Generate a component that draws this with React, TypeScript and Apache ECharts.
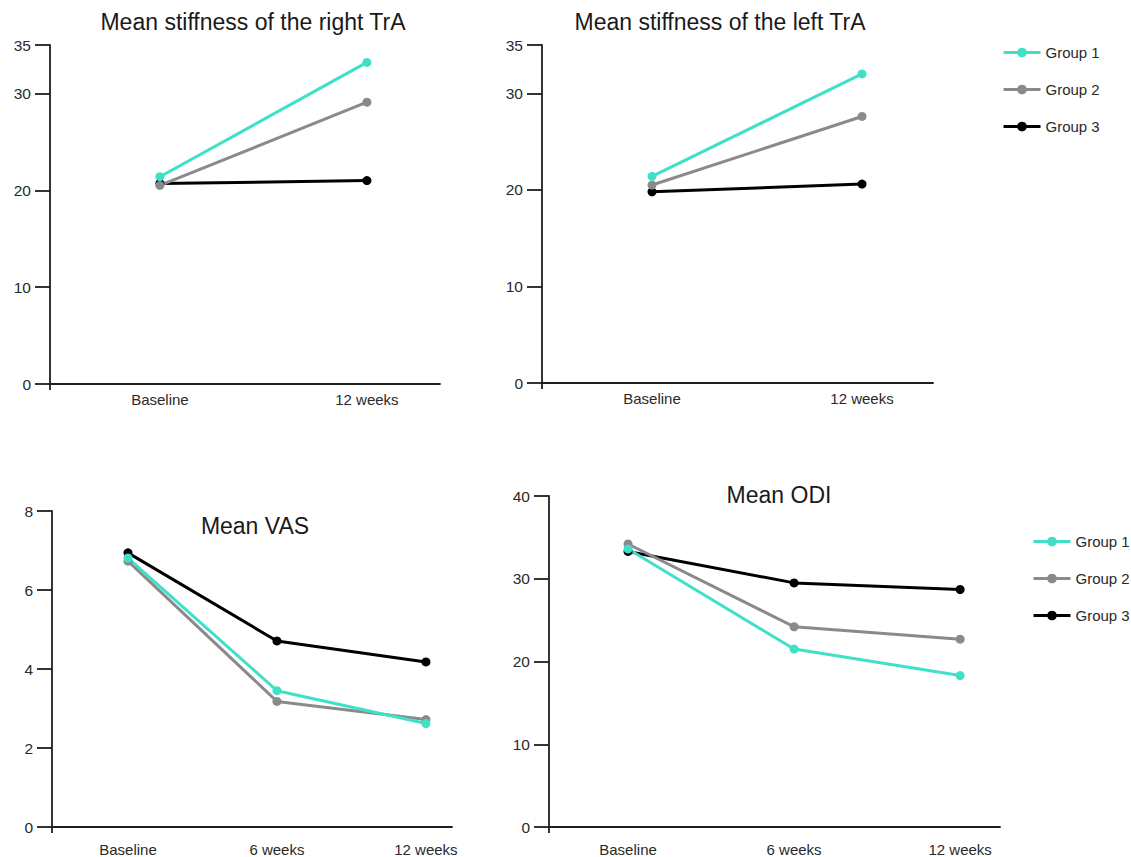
import React, { useEffect, useRef } from "react";
import * as echarts from "echarts";

const groupNames = ["Group 1", "Group 2", "Group 3"];
const groupColors = ["#40E0C8", "#8a8a8a", "#000000"];

const stiffCats = ["Baseline", "12 weeks"];
const timeCats = ["Baseline", "6 weeks", "12 weeks"];

const stiffTicks = [0, 10, 20, 30, 35];
const vasTicks = [0, 2, 4, 6, 8];
const odiTicks = [0, 10, 20, 30, 40];

const rightG1 = [21.4, 33.2];
const rightG2 = [20.5, 29.1];
const rightG3 = [20.7, 21.0];

const leftG1 = [21.4, 32.0];
const leftG2 = [20.5, 27.6];
const leftG3 = [19.8, 20.6];

const vasG1 = [6.81, 3.45, 2.62];
const vasG2 = [6.73, 3.18, 2.72];
const vasG3 = [6.94, 4.71, 4.18];

const odiG1 = [33.6, 21.5, 18.3];
const odiG2 = [34.2, 24.2, 22.7];
const odiG3 = [33.3, 29.5, 28.7];

const titles = [
  "Mean stiffness of the right TrA",
  "Mean stiffness of the left TrA",
  "Mean VAS",
  "Mean ODI",
];

const FONT = "Liberation Sans, Arial, Helvetica, sans-serif";

export default function App() {
  const ref = useRef<HTMLDivElement>(null);
  useEffect(() => {
    if (!ref.current) return;
    const chart = echarts.init(ref.current, undefined, { renderer: "svg" });

    const grids = [
      { left: 50, top: 45, width: 390, height: 339 },
      { left: 542, top: 45, width: 391, height: 338 },
      { left: 52, top: 511, width: 400, height: 316 },
      { left: 549, top: 496, width: 451, height: 331 },
    ];
    const xRanges = [
      [-0.531, 1.353],
      [-0.524, 1.338],
      [-0.51, 2.175],
      [-0.476, 2.24],
    ];
    const cats = [stiffCats, stiffCats, timeCats, timeCats];
    const yMax = [35, 35, 8, 40];
    const yTicks = [stiffTicks, stiffTicks, vasTicks, odiTicks];
    const labelMargins = [8, 8, 15, 15];
    const seriesData = [
      [rightG1, rightG2, rightG3],
      [leftG1, leftG2, leftG3],
      [vasG1, vasG2, vasG3],
      [odiG1, odiG2, odiG3],
    ];

    const axisColor = "#1e1e1e";
    const xAxis = grids.map((_, i) => ({
      type: "value",
      gridIndex: i,
      min: xRanges[i][0],
      max: xRanges[i][1],
      axisLine: { show: true, onZero: false, lineStyle: { color: axisColor, width: 1.8 } },
      axisTick: {
        show: true,
        customValues: [xRanges[i][0]],
        length: 6,
        lineStyle: { color: axisColor, width: 1.8 },
      },
      splitLine: { show: false },
      axisLabel: {
        customValues: cats[i].map((_, k) => k),
        formatter: (v: number) => cats[i][Math.round(v)] ?? "",
        color: "#2a2a2a",
        fontSize: 15,
        fontFamily: FONT,
        margin: labelMargins[i],
      },
    }));
    const yAxis = grids.map((_, i) => ({
      type: "value",
      gridIndex: i,
      min: 0,
      max: yMax[i],
      axisLine: { show: true, onZero: false, lineStyle: { color: axisColor, width: 1.8 } },
      axisTick: {
        show: true,
        customValues: yTicks[i],
        length: 15,
        lineStyle: { color: axisColor, width: 1.8 },
      },
      splitLine: { show: false },
      axisLabel: {
        customValues: yTicks[i],
        color: "#2a2a2a",
        fontSize: 15.5,
        fontFamily: FONT,
        margin: 19,
      },
    }));

    const series: any[] = [];
    seriesData.forEach((groups, gi) => {
      [2, 1, 0].forEach((k) => {
        series.push({
          type: "line",
          name: groupNames[k],
          xAxisIndex: gi,
          yAxisIndex: gi,
          data: groups[k].map((v, idx) => [idx, v]),
          symbol: "circle",
          symbolSize: 9,
          color: groupColors[k],
          lineStyle: { width: 3, color: groupColors[k] },
          itemStyle: { color: groupColors[k] },
        });
      });
    });

    const titlePos = [
      [253, 22],
      [720, 22],
      [255, 526],
      [779, 495],
    ];

    const legendBase = {
      orient: "vertical",
      itemWidth: 37,
      itemHeight: 12,
      itemGap: 22,
      data: groupNames,
      textStyle: { fontSize: 15, color: "#2a2a2a", fontFamily: FONT },
      lineStyle: { width: 3 },
      selectedMode: false,
    };

    chart.setOption({
      animation: false,
      backgroundColor: "#ffffff",
      grid: grids,
      xAxis,
      yAxis,
      series,
      legend: [
        { ...legendBase, left: 997, top: 40 },
        { ...legendBase, left: 1027, top: 529 },
      ],
      graphic: titles.map((t, i) => ({
        type: "text",
        x: titlePos[i][0],
        y: titlePos[i][1],
        style: {
          text: t,
          textAlign: "center",
          textVerticalAlign: "middle",
          fontSize: 23,
          fontFamily: FONT,
          fill: "#1a1a1a",
        },
      })),
    });
    return () => chart.dispose();
  }, []);
  return (
    <div
      ref={ref}
      style={{ position: "absolute", left: 0, top: 0, width: 1131, height: 857 }}
    />
  );
}
